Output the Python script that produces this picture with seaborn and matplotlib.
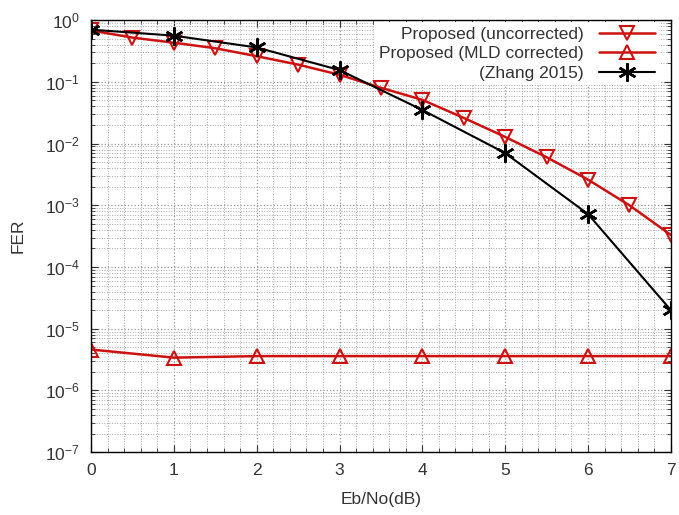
import numpy as np
import pandas as pd
import seaborn as sns
import matplotlib.pyplot as plt
from matplotlib.ticker import LogLocator, MultipleLocator, NullFormatter, FuncFormatter

# values
ebno_prop = [0, 0.5, 1, 1.5, 2, 2.5, 3, 3.5, 4, 4.5, 5, 5.5, 6, 6.5, 7]
fer_uncorr = [0.68, 0.52, 0.43, 0.35, 0.26, 0.19, 0.13, 0.08, 0.051, 0.026,
              0.0128, 0.006, 0.0026, 0.001, 0.00033]
ebno_mld = [0, 1, 2, 3, 4, 5, 6, 7]
fer_mld = [4.6e-6, 3.4e-6, 3.6e-6, 3.6e-6, 3.6e-6, 3.6e-6, 3.6e-6, 3.6e-6]
ebno_zhang = [0, 1, 2, 3, 4, 5, 6, 7]
fer_zhang = [0.7, 0.56, 0.36, 0.155, 0.035, 0.007, 0.00072, 2.0e-5]

sns.set_style('ticks')
plt.rcParams['font.family'] = ['Liberation Sans', 'DejaVu Sans']
plt.rcParams['font.size'] = 12.5
plt.rcParams['mathtext.fontset'] = 'custom'
plt.rcParams['mathtext.rm'] = 'Liberation Sans'
plt.rcParams['mathtext.it'] = 'Liberation Sans'
plt.rcParams['mathtext.default'] = 'regular'

fig = plt.figure(figsize=(6.79, 5.15), dpi=100)
ax = fig.add_axes([0.134, 0.122, 0.854, 0.839])

red = '#cc1111'
sns.lineplot(x=ebno_prop, y=fer_uncorr, ax=ax, color=red, lw=1.8,
             marker='v', markersize=10, markerfacecolor='none',
             markeredgecolor=red, markeredgewidth=1.5,
             label='Proposed (uncorrected)')
sns.lineplot(x=ebno_mld, y=fer_mld, ax=ax, color=red, lw=1.8,
             marker='^', markersize=10, markerfacecolor='none',
             markeredgecolor=red, markeredgewidth=1.5,
             label='Proposed (MLD corrected)')
sns.lineplot(x=ebno_zhang, y=fer_zhang, ax=ax, color='black', lw=1.5,
             marker=(6, 2, 0), markersize=13, markeredgecolor='black',
             markeredgewidth=1.8, label='(Zhang 2015)')

ax.set_yscale('log')
ax.set_xlim(0, 7)
ax.set_ylim(1e-7, 1)
ax.xaxis.set_major_locator(MultipleLocator(1))
ax.xaxis.set_minor_locator(MultipleLocator(0.2))
ax.yaxis.set_major_locator(LogLocator(base=10, numticks=10))
ax.yaxis.set_major_formatter(FuncFormatter(
    lambda v, p: '$10^{%d}$' % round(np.log10(v))))
ax.yaxis.set_minor_locator(LogLocator(base=10, subs=np.arange(2, 10), numticks=20))
ax.yaxis.set_minor_formatter(NullFormatter())

ax.grid(which='major', color='#999999', linestyle=':', linewidth=0.9)
ax.grid(which='minor', color='#aaaaaa', linestyle=':', linewidth=0.7)
ax.tick_params(which='both', direction='in', top=True, right=True,
               colors='#333333', labelcolor='#333333')
ax.tick_params(which='major', length=5, pad=8)
ax.tick_params(which='minor', length=3)
for s in ax.spines.values():
    s.set_color('black')
    s.set_linewidth(1.0)

ax.set_xlabel('Eb/No(dB)', color='#333333', labelpad=10)
ax.set_ylabel('FER', color='#333333', labelpad=14)

leg = ax.legend(loc='upper right', frameon=True, markerfirst=False,
                handlelength=3.2, handletextpad=0.9, labelspacing=0.25,
                borderaxespad=0.0, borderpad=0.25, bbox_to_anchor=(0.98, 0.995),
                fontsize=12.5, fancybox=False, framealpha=1.0,
                facecolor='white', edgecolor='none')
leg.set_zorder(1)
for t in leg.get_texts():
    t.set_color('#333333')

fig.savefig('out.png', dpi=100)
